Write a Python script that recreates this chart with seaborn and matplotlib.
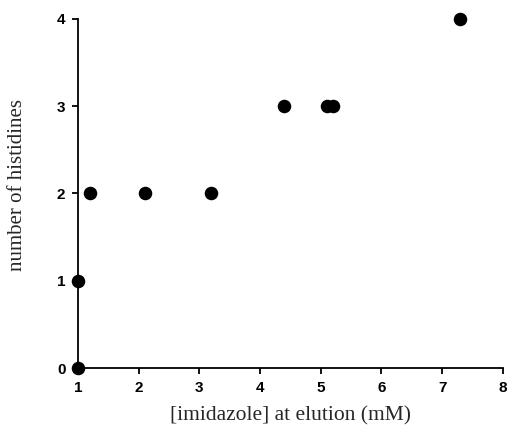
import matplotlib
matplotlib.use("Agg")
import matplotlib.pyplot as plt
import seaborn as sns
import pandas as pd

# imidazole concentration at elution (mM) vs number of histidines
imidazole_mM = [1.0, 1.0, 1.2, 2.1, 3.2, 4.4, 5.1, 5.2, 7.3]
histidines = [0, 1, 2, 2, 2, 3, 3, 3, 4]
x_ticks = [1, 2, 3, 4, 5, 6, 7, 8]
y_ticks = [0, 1, 2, 3, 4]

df = pd.DataFrame({"imidazole": imidazole_mM, "histidines": histidines})

sns.set_style("ticks")
fig = plt.figure(figsize=(5.09, 4.29), dpi=100)
ax = fig.add_axes([0.153, 0.142, 0.835, 0.814])

sns.scatterplot(data=df, x="imidazole", y="histidines", ax=ax,
                color="black", s=95, edgecolor="black", linewidth=0,
                clip_on=False, zorder=3)

ax.set_xlim(1, 8)
ax.set_ylim(0, 4)
ax.set_xticks(x_ticks)
ax.set_yticks(y_ticks)
sns.despine(ax=ax)
for sp in ["left", "bottom"]:
    ax.spines[sp].set_linewidth(1.3)
    ax.spines[sp].set_color("black")
ax.tick_params(direction="out", length=4, width=1.3, colors="black",
               labelsize=11, pad=5)
for lab in ax.get_xticklabels() + ax.get_yticklabels():
    lab.set_family("Liberation Sans")
    lab.set_fontweight("semibold")

ax.set_xlabel("[imidazole] at elution (mM)", family="Liberation Serif",
              fontsize=15.5)
ax.set_ylabel("number of histidines", family="Liberation Serif",
              fontsize=15)
ax.xaxis.set_label_coords(0.5, -0.11)
ax.yaxis.set_label_coords(-0.12, 0.525)

fig.savefig("out.png", dpi=100)
